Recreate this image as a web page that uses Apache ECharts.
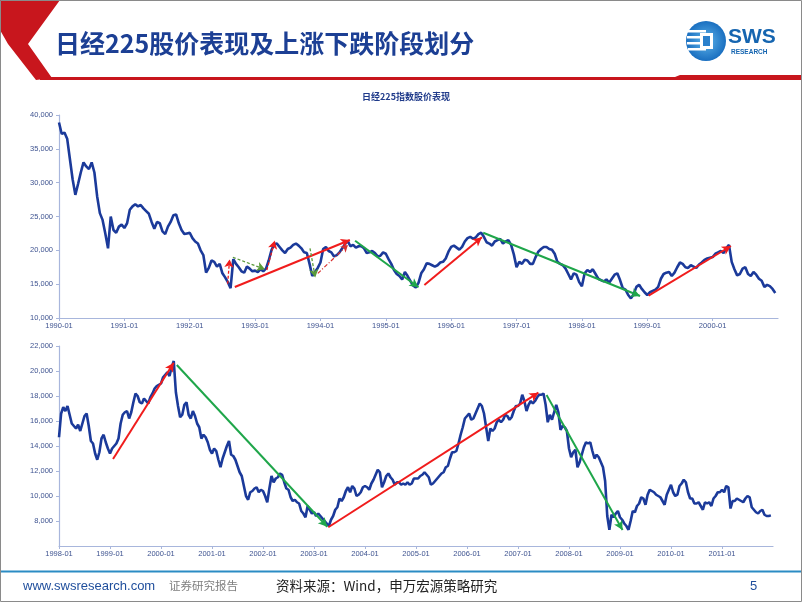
<!DOCTYPE html>
<html><head><meta charset="utf-8">
<script src="https://cdn.jsdelivr.net/npm/echarts@6/dist/echarts.min.js"></script>
<style>html,body{margin:0;padding:0;background:#fff}#c{width:802px;height:602px}</style>
</head><body><div id="c"></div>
<script>
// Nikkei 225, two readings per month (first half, second half)
const nk1990=[38900,37200,37400,36500,33500,30500,28200,29800,31500,33000,32400,32000,33000,31500,28000,25500,24500,22500,20300,25000,23000,22600,23500,23800];
const nk1991=[23300,24000,26000,26500,26800,26500,26700,26200,25800,25400,24200,23200,24200,24000,22800,22400,23500,24200,25200,25300,24000,23000,22400,22500];
const nk1992=[22600,21800,21300,21000,20000,19300,16700,17400,18500,18300,17600,18000,16600,16000,15300,14400,18700,18000,17500,16900,16700,17600,17300,16900];
const nk1993=[17000,16800,17200,16900,17300,18500,20000,20900,21000,20500,20000,19600,20200,20400,20800,21000,20700,20300,19700,19600,18000,16200,16800,17400];
const nk1994=[18200,20200,20500,19900,19700,19100,19300,19700,20300,20900,21400,20600,20800,20400,20600,20600,20300,19600,19700,19900,19600,19100,19200,19700];
const nk1995=[19500,18700,18000,17100,16500,16200,15700,16800,16200,15500,14800,14500,15200,16600,17200,18100,18000,17800,17600,17800,18200,18300,18800,19800];
const nk1996=[20500,20700,20400,20100,20500,21300,21800,22000,21700,21900,22400,22600,22000,21200,21000,20700,21300,21500,21700,21000,21300,21500,20800,19400];
const nk1997=[17500,18300,18000,18600,18500,18000,18000,19000,19800,20200,20500,20500,20200,20100,19500,18300,18000,17800,17300,16500,15700,16600,16400,15300];
const nk1998=[14700,16600,17100,16800,17200,16500,15800,15600,15400,15700,15200,15800,16400,16600,15600,14400,14200,13400,12900,13500,14600,14900,14300,13800];
const nk1999=[13400,13800,14000,14200,14600,15800,16500,16700,16800,16200,16700,17500,18200,18000,17500,17400,17800,17600,17400,17900,18200,18600,18800,18900];
const nk2000=[19000,19500,19700,19900,19600,20300,20800,18300,17200,16300,16500,17300,17500,16500,16200,16800,16400,15800,15500,14600,14900,14700,14300,13700];
const nk2001=[13400,13800,13600,12900,12300,13000,13500,14000,14400,13300,13200,12900,12400,11900,11600,10800,10000,9700,10300,10400,10600,10700,10300,10500];
const nk2002=[10400,10000,9500,10600,11600,11100,11400,11500,11800,11700,11100,10600,10500,9900,9600,9700,9500,9400,8800,8600,8300,9200,8900,8600];
const nk2003=[8700,8400,8600,8400,8200,8000,7800,7600,8100,8400,8900,9100,9800,9600,9900,10400,10700,10300,10800,10600,10000,10100,10300,10700];
const nk2004=[10800,10700,10500,11000,11300,11700,12100,11900,10700,11100,11600,11800,11500,11300,10900,11100,11100,10900,11000,10900,11100,10900,11000,11400];
const nk2005=[11400,11400,11600,11700,11900,11700,11500,10900,11000,11200,11400,11600,11800,11900,12300,12400,13000,13500,13500,13600,14200,14900,15500,16200];
const nk2006=[16400,16600,16100,16200,16600,17000,17400,17200,16600,15500,14400,15400,15200,15400,15900,16100,15900,16100,16500,16400,16100,16300,16800,17200];
const nk2007=[17200,17400,18100,17600,16800,17300,17600,17400,17600,17900,18100,18100,18200,17300,15900,16500,16100,16700,17300,16700,15300,15600,15500,15200];
const nk2008=[13800,13100,13500,13700,12300,12700,13300,13900,14300,14200,14300,13600,13000,13300,13100,12700,12300,11200,8400,7300,8500,8300,8600,8800];
const nk2009=[8300,8100,7800,7600,7300,8000,8800,8700,9200,9400,9900,9800,9300,10100,10500,10400,10300,10100,10000,9900,9600,9300,10100,10500];
const nk2010=[10900,10300,10000,10100,10800,11000,11300,11100,10300,9800,9800,9400,9400,9500,9200,8900,9500,9400,9500,9200,9800,10000,10300,10300];
const nk2011=[10500,10300,10800,10700,9000,9600,9600,9800,9700,9600,9500,9800,10000,9900,9100,8900,8700,8600,8800,8900,8500,8400,8400,8450];
const nkYears=[nk1990,nk1991,nk1992,nk1993,nk1994,nk1995,nk1996,nk1997,nk1998,nk1999,nk2000,nk2001,nk2002,nk2003,nk2004,nk2005,nk2006,nk2007,nk2008,nk2009,nk2010,nk2011];
const firstYear=1990;

// phase arrows [fromYear, fromValue, toYear, toValue]
const topUp=[[1992.69,14580,1994.45,21530],[1995.59,14880,1996.47,21930],[1999.02,13300,2000.28,20640]];
const topDown=[[1994.53,21420,1995.50,14540],[1996.49,22600,1998.89,13250]];
const topSmallUp=[[1992.58,15070,1992.61,18650],[1993.18,17100,1993.30,21400]];
const topSmallDown=[[1992.66,18980,1993.15,17200],[1993.84,20300,1993.92,16000]];
const topSmallUpDot=[[1993.96,16600,1994.42,20800]];
const botUp=[[1999.06,12960,2000.25,20660],[2003.28,7500,2007.40,18264]];
const botDown=[[2000.31,20480,2003.26,7544],[2007.56,18080,2009.05,7280]];

const pts=[];
nkYears.forEach((arr,yi)=>arr.forEach((v,i)=>pts.push([firstYear+yi+i/24,v])));
const topPts=pts.filter(p=>p[0]<2001);
const botPts=pts.filter(p=>p[0]>=1998);

const RED='#f01c1c', GREEN='#1fa64a';
function arrows(list,color,type,width,size){
  return list.map(a=>[
    {coord:[a[0],a[1]],symbol:'none',lineStyle:{color:color,type:type,width:width}},
    {coord:[a[2],a[3]],symbol:'arrow',symbolSize:size,lineStyle:{color:color,type:type,width:width},itemStyle:{color:color}}
  ]);
}
const axisCol='#a8b6dc', labCol='#3e5390';
const lab={fontSize:7.5,color:labCol,fontFamily:'Liberation Sans, Arial'};
function xAx(idx,min,max){
  return {type:'value',gridIndex:idx,min:min,max:max,interval:1,
    axisLine:{lineStyle:{color:axisCol,width:1.2}},axisTick:{length:3,lineStyle:{color:axisCol}},
    splitLine:{show:false},
    axisLabel:Object.assign({},lab,{margin:4,showMaxLabel:false,formatter:v=>Math.round(v)+'-01'})};
}
function yAx(idx,min,max,step,showMin){
  return {type:'value',gridIndex:idx,min:min,max:max,interval:step,
    axisLine:{show:true,lineStyle:{color:axisCol,width:1.2}},axisTick:{show:true,length:3,lineStyle:{color:axisCol}},
    splitLine:{show:false},
    axisLabel:Object.assign({},lab,{margin:6,showMinLabel:showMin,formatter:v=>v.toLocaleString('en-US')})};
}
const chart=echarts.init(document.getElementById('c'),null,{renderer:'canvas'});
chart.setOption({
  animation:false,
  backgroundColor:'#fff',
  grid:[{left:59,right:24,top:115,height:203},{left:59,right:29,top:346,height:200}],
  xAxis:[xAx(0,1990,2001),xAx(1,1998,2012)],
  yAxis:[yAx(0,10000,40000,5000,true),yAx(1,6000,22000,2000,false)],
  series:[
    {type:'line',xAxisIndex:0,yAxisIndex:0,data:topPts,showSymbol:false,lineStyle:{color:'#1b3a9a',width:2.6},
     markLine:{silent:true,animation:false,label:{show:false},emphasis:{disabled:true},
       data:[].concat(arrows(topUp,RED,'solid',2,[7,9]),arrows(topDown,GREEN,'solid',2,[7,9]),
         arrows(topSmallUp,RED,[3,2],1.3,[7,8]),arrows(topSmallDown,'#5a9a3a',[3,2],1.3,[7,8]),
         arrows(topSmallUpDot,'#d83030',[4,2,1,2],1.2,[6,7]))}},
    {type:'line',xAxisIndex:1,yAxisIndex:1,data:botPts,showSymbol:false,lineStyle:{color:'#1b3a9a',width:2.6},
     markLine:{silent:true,animation:false,label:{show:false},emphasis:{disabled:true},
       data:[].concat(arrows(botUp,RED,'solid',2,[7,9]),arrows(botDown,GREEN,'solid',2,[7,9]))}}
  ],
  graphic:[
    {type:'rect',shape:{x:0.5,y:0.5,width:801,height:601},style:{fill:'none',stroke:'#8a8a8a',lineWidth:1},z:100},
    {type:'polygon',shape:{points:[[0,0],[60,0],[28,44],[52,78],[36,80],[8,44],[0,30]]},style:{fill:'#c8161d'}},
    {type:'polygon',shape:{points:[[40,77],[675,77],[680,75],[802,75],[802,80],[40,80]]},style:{fill:'#c8161d'}},
    {type:'text',left:55,top:31,style:{text:'日经225股价表现及上涨下跌阶段划分',fill:'#1c3f94',font:'bold 25px "Noto Sans CJK SC"'}},
    {type:'circle',shape:{cx:706,cy:41,r:20},style:{fill:{type:'radial',x:0.5,y:0.5,r:0.5,colorStops:[{offset:0,color:'#5fb4ea'},{offset:1,color:'#1a6fc0'}]}}},
    {type:'rect',shape:{x:688,y:30,width:18,height:2.5},style:{fill:'#fff'}},
    {type:'rect',shape:{x:687,y:36,width:19,height:2.5},style:{fill:'#fff'}},
    {type:'rect',shape:{x:687,y:42,width:19,height:2.5},style:{fill:'#fff'}},
    {type:'rect',shape:{x:688,y:48,width:18,height:2.5},style:{fill:'#fff'}},
    {type:'rect',shape:{x:700,y:33,width:13,height:16},style:{fill:'#fff'}},
    {type:'rect',shape:{x:703,y:36,width:7,height:10},style:{fill:'#2a80cc'}},
    {type:'text',left:728,top:27,style:{text:'SWS',fill:'#1565b0',font:'bold 21px "Liberation Sans"'}},
    {type:'text',left:731,top:49,style:{text:'RESEARCH',fill:'#1565b0',font:'bold 6.5px "Liberation Sans"'}},
    {type:'text',x:406,y:97,style:{text:'日经225指数股价表现',fill:'#1f3a8a',font:'bold 9px "Noto Sans CJK SC"',align:'center',verticalAlign:'middle'}},
    {type:'rect',shape:{x:0,y:570.5,width:802,height:2},style:{fill:'#2b8cc4'}},
    {type:'text',x:23,y:586,style:{text:'www.swsresearch.com',fill:'#1f4e9c',font:'13px "Liberation Sans"',verticalAlign:'middle'}},
    {type:'text',x:169,y:586,style:{text:'证券研究报告',fill:'#7f7f7f',font:'11.5px "Noto Sans CJK SC"',verticalAlign:'middle'}},
    {type:'text',x:276,y:586,style:{text:'资料来源：Wind，申万宏源策略研究',fill:'#222',font:'13.5px "Noto Sans CJK SC"',verticalAlign:'middle'}},
    {type:'text',x:750,y:586,style:{text:'5',fill:'#1f4e9c',font:'13px "Liberation Sans"',verticalAlign:'middle'}}
  ]
});
</script></body></html>
